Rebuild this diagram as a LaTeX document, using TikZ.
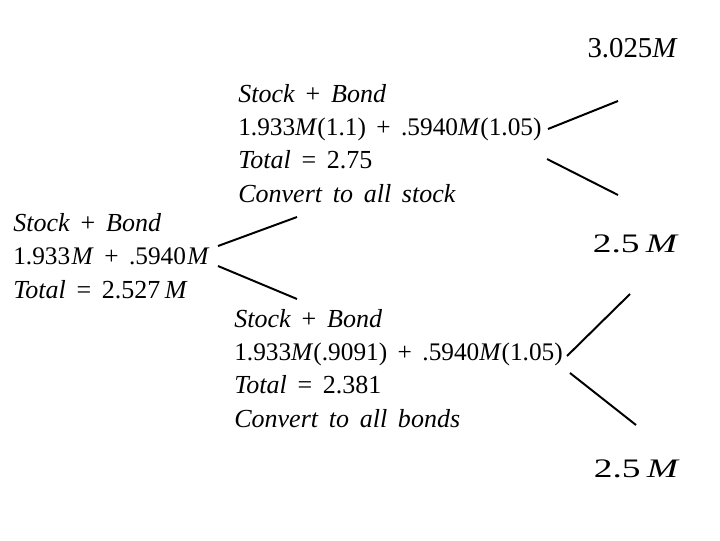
\documentclass[tikz,border=0pt]{standalone}
\usepackage{fontspec}
\setmainfont[WordSpace=1.65]{Liberation Serif}
\usetikzlibrary{positioning}

\newcommand{\numline}{\fontsize{18}{23.5}\selectfont}

\begin{document}
\begin{tikzpicture}[
    x=0.025cm, y=-0.025cm,
    every node/.style={font=\fontsize{18.5}{23.5}\selectfont, inner sep=0pt},
    block/.style={align=left, anchor=base west},
    value/.style={anchor=base east, font=\fontsize{20.5}{24}\selectfont},
    bigvalue/.style={anchor=base east, font=\fontsize{19}{22}\selectfont},
    branch/.style={line width=1.4pt, draw=black}
]
\useasboundingbox (0,0) rectangle (720,540);

% --- Today: current holdings (base = last line) ----------------------------
\node[block] (today) at (13,298) {
    \textit{Stock} + \textit{Bond}\\
    {\numline 1.933\kern1pt\textit{M} + .5940\kern1pt\textit{M}}\\
    \textit{Total} = 2.527\,\textit{M}
};

% --- Up state: convert to stock ---------------------------------------------
\node[block] (up) at (238,202) {
    \textit{Stock} + \textit{Bond}\\
    {\numline 1.933\textit{M}(1.1) + .5940\textit{M}(1.05)}\\
    \textit{Total} = 2.75\\
    \textit{Convert to all stock}
};

% --- Down state: convert to bonds -------------------------------------------
\node[block] (down) at (234,427) {
    \textit{Stock} + \textit{Bond}\\
    {\numline 1.933\textit{M}(.9091) + .5940\textit{M}(1.05)}\\
    \textit{Total} = 2.381\\
    \textit{Convert to all bonds}
};

% --- Final values -------------------------------------------------------------
\node[value] (upup) at (678,57) {3.025\textit{M}};
\node[bigvalue] (upfloor) at (679,252) {\scalebox{1.4}[1]{2.5\,\textit{M}}};
\node[bigvalue] (downfloor) at (680,477) {\scalebox{1.4}[1]{2.5\,\textit{M}}};

% --- Branch end points --------------------------------------------------------
\coordinate (todayA) at (218,246);
\coordinate (todayB) at (218,266);
\coordinate (upIn) at (297,217);
\coordinate (downIn) at (297,299);
\coordinate (upA) at (548,129);
\coordinate (upB) at (547,159);
\coordinate (upOutA) at (618,101);
\coordinate (upOutB) at (618,195);
\coordinate (downA) at (567,356);
\coordinate (downB) at (570,373);
\coordinate (downOutA) at (630,294);
\coordinate (downOutB) at (636,425);

% --- Branches -----------------------------------------------------------------
\draw[branch] (todayA) -- (upIn);
\draw[branch] (todayB) -- (downIn);
\draw[branch] (upA) -- (upOutA);
\draw[branch] (upB) -- (upOutB);
\draw[branch] (downA) -- (downOutA);
\draw[branch] (downB) -- (downOutB);

\end{tikzpicture}
\end{document}
